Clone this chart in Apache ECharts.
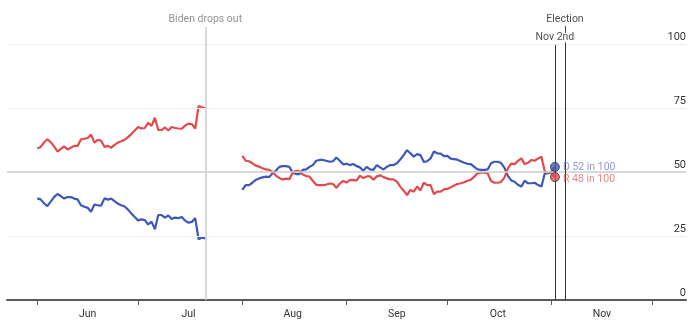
<!DOCTYPE html>
<html>
<head>
<meta charset="utf-8">
<script src="https://cdn.jsdelivr.net/npm/echarts@6/dist/echarts.min.js"></script>
<style>
  html, body { margin: 0; padding: 0; background: #fff; }
  #chart { width: 700px; height: 332px; }
</style>
</head>
<body>
<div id="chart"></div>
<script>
// Month names shown under the axis, and the probability ticks on the right
const MONTH_LABELS = ['Jun', 'Jul', 'Aug', 'Sep', 'Oct', 'Nov'];
const Y_TICKS = [0, 25, 50, 75, 100];

// Daily forecast, chances in 100. First run: Jun 1 - Jul 21 (Biden vs Trump)
const SPRING_START = [2024, 5, 1];
const D_SPRING = [
  39.7, 39.3, 37.8, 36.7, 38.4, 40.2, 41.4, 40.6, 39.6, 40.2,
  40.2, 39.6, 39.3, 37.0, 36.4, 36.0, 34.5, 37.3, 37.0, 36.9,
  39.7, 39.2, 39.6, 38.6, 37.6, 37.0, 36.5, 35.3, 33.8, 32.4,
  31.1, 31.5, 31.2, 29.5, 30.6, 27.6, 33.2, 33.2, 32.2, 33.0,
  31.6, 32.2, 32.0, 32.4, 31.0, 30.2, 30.5, 32.0, 23.7, 24.4,
  24.1
];
const R_SPRING = [
  59.2, 59.8, 61.5, 62.8, 61.7, 60.0, 58.0, 59.0, 60.0, 58.8,
  59.5, 60.2, 60.2, 62.8, 63.0, 63.3, 64.6, 61.5, 62.6, 62.2,
  59.8, 60.2, 59.5, 60.6, 61.5, 62.0, 62.6, 63.6, 64.8, 66.2,
  67.6, 67.0, 67.2, 69.2, 68.0, 71.2, 66.4, 66.4, 67.4, 66.2,
  67.6, 67.2, 67.0, 66.9, 68.2, 68.9, 68.7, 67.0, 75.8, 75.3,
  74.9
];

// Second run: Aug 1 - Nov 2 (Harris vs Trump)
const FALL_START = [2024, 7, 1];
const D_FALL = [
  43.0, 44.9, 44.9, 45.8, 46.9, 47.5, 47.9, 48.2, 48.0, 49.5,
  50.5, 52.0, 52.3, 52.3, 52.0, 49.7, 49.2, 49.2, 50.8, 51.0,
  52.0, 52.7, 54.4, 54.7, 54.7, 54.4, 54.0, 54.2, 55.7, 54.4,
  53.0, 53.2, 52.7, 53.1, 52.3, 51.8, 50.5, 52.0, 51.0, 50.8,
  52.7, 51.8, 51.0, 52.0, 52.7, 52.7, 53.4, 54.9, 56.6, 58.5,
  57.3, 56.0, 57.0, 56.6, 53.9, 54.2, 55.3, 58.0, 57.3, 57.2,
  56.2, 56.3, 55.2, 55.0, 54.8, 54.2, 53.6, 53.2, 53.1, 52.0,
  51.0, 50.8, 50.8, 51.0, 53.4, 54.0, 54.0, 53.5, 51.6, 48.5,
  46.7, 46.2, 45.0, 44.3, 46.6, 45.6, 45.6, 45.8, 44.9, 44.3,
  49.5, 49.5, 50.1, 52.0
];
const R_FALL = [
  56.3, 54.4, 54.2, 53.4, 52.5, 52.1, 51.5, 51.0, 50.8, 50.0,
  48.6, 47.7, 47.1, 47.4, 47.2, 49.8, 50.5, 50.3, 49.0, 48.4,
  48.2, 46.5, 45.0, 44.9, 44.9, 45.1, 45.5, 45.3, 43.8, 45.5,
  46.5, 45.9, 46.8, 46.9, 46.6, 48.6, 47.6, 48.3, 48.3, 47.0,
  48.3, 48.7, 48.0, 47.5, 47.1, 47.1, 46.2, 44.3, 42.7, 41.0,
  43.0, 42.3, 44.3, 42.8, 45.8, 44.9, 44.9, 41.4, 42.3, 42.3,
  43.2, 43.4, 44.0, 44.7, 45.3, 45.6, 46.0, 46.6, 47.0, 48.2,
  49.5, 49.7, 49.7, 49.5, 46.5, 45.8, 45.8, 46.2, 47.8, 51.4,
  53.3, 53.1, 54.3, 55.3, 53.1, 53.6, 54.7, 54.4, 55.3, 56.0,
  50.1, 49.7, 49.5, 48.0
];

// Latest reading
const END_D = 52;
const END_R = 48;

// Key dates
const BIDEN_OUT = [2024, 6, 21];
const TODAY = [2024, 10, 2];
const ELECTION_DAY = [2024, 10, 5];

const BLUE = '#3e57bb';
const RED = '#e24a4c';
const FONT = 'Roboto, sans-serif';

function t(ymd, plus) {
  return new Date(ymd[0], ymd[1], ymd[2] + (plus || 0)).getTime();
}
function daily(start, vals) {
  return vals.map((v, i) => [t(start, i), v]);
}

const monthStarts = [];
const monthMids = [];
for (let m = 5; m <= 11; m++) {
  monthStarts.push(t([2024, m, 1]));
  if (m <= 10) monthMids.push(t([2024, m, 16]));
}

function lineSeries(name, color, data) {
  return {
    name, type: 'line', data, z: 3,
    symbol: 'none', showSymbol: false,
    lineStyle: { color, width: 2.2 },
    silent: true
  };
}

const chart = echarts.init(document.getElementById('chart'), null, { renderer: 'canvas' });

chart.setOption({
  animation: false,
  grid: { left: 7, right: 14, top: 5.6, bottom: 32 },
  xAxis: {
    // dates as millisecond timestamps on a linear scale
    type: 'value',
    min: t([2024, 4, 23]),
    max: t([2024, 11, 11]),
    axisLine: { lineStyle: { color: '#5a5a5a', width: 2 } },
    axisTick: { show: true, length: 5, customValues: monthStarts, lineStyle: { color: '#5a5a5a', width: 1 } },
    axisLabel: {
      customValues: monthMids,
      formatter: v => MONTH_LABELS[new Date(v).getMonth() - 5] || '',
      color: '#333', fontSize: 10.5, fontFamily: FONT, margin: 9
    },
    splitLine: { show: false }
  },
  yAxis: {
    type: 'value',
    position: 'right',
    min: 0, max: 115, interval: 25,
    axisLine: { show: false },
    axisTick: { show: false },
    splitLine: { show: false },
    axisLabel: {
      inside: true, margin: 0,
      verticalAlign: 'bottom', lineHeight: 13,
      formatter: v => (Y_TICKS.indexOf(v) >= 0 ? String(v) : ''),
      color: '#333', fontSize: 11, fontFamily: FONT
    }
  },
  series: [
    {
      // horizontal guides
      type: 'line', data: [], z: 1, silent: true,
      markLine: {
        silent: true, symbol: ['none', 'none'], label: { show: false },
        data: [
          { yAxis: 25, lineStyle: { color: '#eeeeee', width: 1, type: 'solid' } },
          { yAxis: 75, lineStyle: { color: '#eeeeee', width: 1, type: 'solid' } },
          { yAxis: 100, lineStyle: { color: '#eeeeee', width: 1, type: 'solid' } },
          { yAxis: 50, lineStyle: { color: '#cccccc', width: 1.5, type: 'solid' } }
        ]
      }
    },
    lineSeries('D', BLUE, daily(SPRING_START, D_SPRING)),
    lineSeries('R', RED, daily(SPRING_START, R_SPRING)),
    lineSeries('D', BLUE, daily(FALL_START, D_FALL)),
    lineSeries('R', RED, daily(FALL_START, R_FALL)),
    {
      // event annotations
      type: 'scatter', z: 2, silent: true,
      symbolSize: 0,
      data: [
        { name: 'Biden drops out', value: [t(BIDEN_OUT), 109.8], label: { color: '#777' } },
        { name: 'Election', value: [t(ELECTION_DAY), 109.8], label: { color: '#222' } },
        { name: 'Nov 2nd', value: [t(TODAY), 102.4], label: { color: '#222' } }
      ],
      label: {
        show: true, position: 'inside', formatter: p => p.name,
        fontSize: 10.5, fontFamily: FONT
      },
      markLine: {
        silent: true, symbol: ['none', 'none'], label: { show: false },
        data: [
          [{ coord: [t(BIDEN_OUT), 106.6], lineStyle: { color: '#cccccc', width: 1.5, type: 'solid' } },
           { coord: [t(BIDEN_OUT), 0] }],
          [{ coord: [t(ELECTION_DAY), 107.0], lineStyle: { color: '#444', width: 1, type: 'solid' } },
           { coord: [t(ELECTION_DAY), 104.3] }],
          [{ coord: [t(ELECTION_DAY), 100.6], lineStyle: { color: '#333', width: 1, type: 'solid' } },
           { coord: [t(ELECTION_DAY), 0] }],
          [{ coord: [t(TODAY), 99.6], lineStyle: { color: '#333', width: 1, type: 'solid' } },
           { coord: [t(TODAY), 0] }]
        ]
      }
    },
    {
      // latest values
      type: 'scatter', z: 5, silent: true,
      symbolSize: 9,
      itemStyle: { borderColor: '#333', borderWidth: 1 },
      data: [
        { value: [t(TODAY), END_D], itemStyle: { color: BLUE },
          label: { formatter: 'D ' + END_D + ' in 100', color: '#6f82c9' } },
        { value: [t(TODAY), END_R], itemStyle: { color: RED },
          label: { formatter: 'R ' + END_R + ' in 100', color: '#e0696b', offset: [0, 2] } }
      ],
      label: { show: true, position: 'right', distance: 3, fontSize: 10.5, fontFamily: FONT }
    }
  ]
});
</script>
</body>
</html>
